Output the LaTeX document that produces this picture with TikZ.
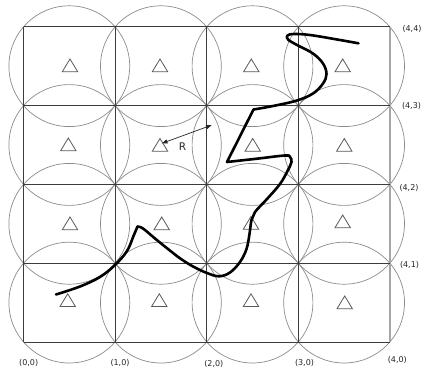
\documentclass[tikz,border=0pt]{standalone}
\usepackage{fontspec}
\setmainfont{DejaVu Sans}
\usetikzlibrary{arrows.meta}
\definecolor{gridc}{HTML}{3C3C3C}
\definecolor{circc}{HTML}{8C8C8C}
\definecolor{tric}{HTML}{5A5A5A}
\tikzset{
  gridline/.style={draw=gridc, line width=0.9pt},
  edgeline/.style={draw=gray!70, line width=1.3pt},
  cover/.style={draw=circc, line width=0.7pt},
  tri/.style={draw=tric, line width=0.8pt, line join=miter},
  pathline/.style={draw=black, line width=2.6pt, line join=round, line cap=round},
  coordlabel/.style={font=\fontsize{8}{9}\selectfont, text=black!85, inner sep=0pt},
  rlabel/.style={font=\fontsize{10.5}{12}\selectfont, text=black!85, inner sep=0pt},
  rarrow/.style={draw=black!85, line width=0.7pt, {Latex[length=6pt,width=4.5pt]}-{Latex[length=6pt,width=4.5pt]}}
}
\begin{document}
\begin{tikzpicture}[x=1pt,y=-1pt]
\useasboundingbox (0,0) rectangle (424,386);
\fill[white] (0,0) rectangle (424,386);
% circles
\foreach \i in {0,...,3}{
  \foreach \j in {0,...,3}{
    \pgfmathsetmacro{\cx}{69.3+91.6*\i}
    \pgfmathsetmacro{\cy}{302.6-78.8*\j}
    \draw[cover] (\cx,\cy) circle [radius=60.4pt];
  }
}
% grid
\foreach \i in {0,...,3}{
  \pgfmathsetmacro{\gx}{23.5+91.6*\i}
  \draw[gridline] (\gx,26.7) -- (\gx,342);
}
\draw[edgeline] (390,26.7) -- (390,342);
\foreach \j in {0,...,4}{
  \pgfmathsetmacro{\gy}{342-78.8*\j}
  \draw[gridline] (23.5,\gy) -- (390,\gy);
}
% triangles
\foreach \tx/\ty in {70/65.5,160/65.5,251.3/65.5,342.7/65.5,
                     68.3/144.5,160/145,252.7/145,344.3/145,
                     70/223.5,161.7/223.5,251/223,342.7/221.5,
                     67.7/300.3,159.3/300.3,251/300.3,344.7/302.5}{
  \draw[tri] (\tx,\ty-6.5) -- (\tx+7.7,\ty+6.2) -- (\tx-7.7,\ty+6.2) -- cycle;
}
% path
\draw[pathline] plot[smooth, tension=0.6] coordinates {(56,294.5) (80,286.5) (100,277) (115,265) (127,251) (133.5,236) (137.5,226.5)}
  -- plot[smooth, tension=0.6] coordinates {(137.5,226.5) (143,228.5) (155,238.5) (168,249) (181,259) (194,267) (207,273) (219,276.3) (230,272.5) (240,262) (246.5,249) (249.5,234) (251.5,220) (255,212) (267,199) (280,184) (287.5,171) (291.5,162) (290,157) (285,155.5) (256,158.8) (227,162)}
  -- (253.5,109.5)
  -- plot[smooth, tension=0.6] coordinates {(253.5,109.5) (273,106) (297,100.5) (313,93.5) (323,83.5) (326.5,74) (323,63.5) (313,53.5) (297,45) (288,39.5) (287.5,35.5) (294,34) (310,35) (336,39.3) (358.5,43.3)};
% radius arrow
\coordinate (ra) at (212,125);
\coordinate (rb) at (161.5,143.5);
\draw[rarrow] (ra) -- (rb);
\node[rlabel] (R) at (182.5,146.5) {R};
% labels
\node[coordlabel] (l44) at (412,29) {(4,4)};
\node[coordlabel] (l43) at (411.5,106) {(4,3)};
\node[coordlabel] (l42) at (409,187.7) {(4,2)};
\node[coordlabel] (l41) at (409.5,265.3) {(4,1)};
\node[coordlabel] (l40) at (397.3,359.7) {(4,0)};
\node[coordlabel] (l30) at (304.5,363) {(3,0)};
\node[coordlabel] (l20) at (213.8,364) {(2,0)};
\node[coordlabel] (l10) at (120,362.7) {(1,0)};
\node[coordlabel] (l00) at (28.7,362.7) {(0,0)};
\end{tikzpicture}
\end{document}
